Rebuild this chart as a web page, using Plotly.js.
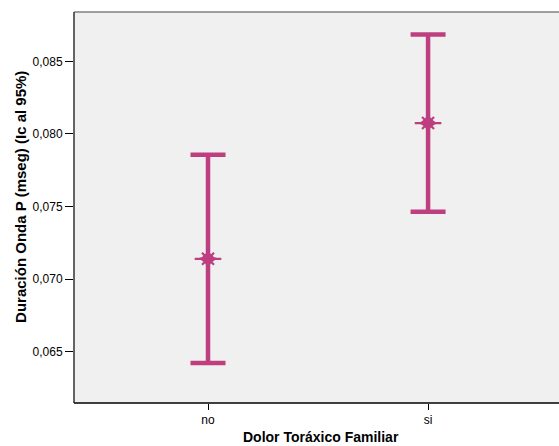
<!DOCTYPE html>
<html>
<head>
<meta charset="utf-8">
<script src="https://cdn.plot.ly/plotly-3.0.1.min.js"></script>
<style>
  html, body { margin: 0; padding: 0; background: #ffffff; overflow: hidden; width: 559px; height: 446px; }
  #chart { width: 559px; height: 446px; overflow: hidden; position: absolute; left: 0; top: 0; }
</style>
</head>
<body>
<div id="chart"></div>
<script>
// Group categories and 95% confidence intervals for P-wave duration
const categories = ['no', 'si'];
const means = [0.0714, 0.08075];
const upperCI = [0.07856, 0.08685];
const lowerCI = [0.06422, 0.07464];
const yTicks = [0.065, 0.070, 0.075, 0.080, 0.085];

const barColor = '#bd3f80';
const errPlus = means.map((m, i) => upperCI[i] - m);
const errMinus = means.map((m, i) => m - lowerCI[i]);

// Confidence interval bars, with a thin "+" arm set for the mean marker
const ciTrace = {
  type: 'scatter',
  mode: 'markers',
  x: categories,
  y: means,
  marker: { symbol: 'cross-thin-open', size: 19, color: barColor, line: { width: 2.2, color: barColor } },
  error_y: {
    type: 'data',
    symmetric: false,
    array: errPlus,
    arrayminus: errMinus,
    color: barColor,
    thickness: 4.5,
    width: 17.5
  },
  hoverinfo: 'x+y',
  showlegend: false
};

// Diagonal arms and hub, completing the 8-point star at each mean
const starDiag = {
  type: 'scatter',
  mode: 'markers',
  x: categories,
  y: means,
  marker: { symbol: 'x-thin-open', size: 12, color: barColor, line: { width: 2.2, color: barColor } },
  hoverinfo: 'skip',
  showlegend: false
};

const starHub = {
  type: 'scatter',
  mode: 'markers',
  x: categories,
  y: means,
  marker: { symbol: 'star-diamond', size: 15, color: barColor, line: { width: 0 } },
  hoverinfo: 'skip',
  showlegend: false
};

const fontFamily = '"Liberation Sans", Arial, sans-serif';

const layout = {
  width: 559,
  height: 446,
  margin: { l: 74, r: 0, t: 12, b: 43 },
  paper_bgcolor: '#ffffff',
  plot_bgcolor: '#f0f0f0',
  separators: ',.',
  font: { family: fontFamily, size: 12, color: '#000000' },
  xaxis: {
    type: 'category',
    range: [-0.609, 1.595],
    showgrid: false,
    zeroline: false,
    showline: false,
    ticks: 'outside',
    ticklen: 6,
    tickwidth: 1,
    tickcolor: '#000000',
    tickfont: { size: 12 }
  },
  yaxis: {
    range: [0.06147, 0.0884],
    tickvals: yTicks,
    tickformat: '.3f',
    showgrid: false,
    zeroline: false,
    showline: false,
    ticks: 'outside',
    ticklen: 8,
    tickwidth: 1,
    tickcolor: '#000000',
    tickfont: { size: 12 }
  },
  // axis titles as positioned labels
  annotations: [
    {
      text: 'Duración Onda P (mseg) (Ic al 95%)',
      textangle: -90,
      xref: 'paper', yref: 'paper',
      x: 0, y: 0.527,
      xanchor: 'center', yanchor: 'middle',
      xshift: -53,
      showarrow: false,
      font: { size: 15, family: fontFamily, weight: 'bold', color: '#000000' }
    },
    {
      text: 'Dolor Toráxico Familiar',
      xref: 'paper', yref: 'paper',
      x: 0.509, y: 0,
      xanchor: 'center', yanchor: 'top',
      yshift: -24,
      showarrow: false,
      font: { size: 14, family: fontFamily, weight: 'bold', color: '#000000' }
    }
  ],
  // right strip filled with the panel colour, then the frame: grey top, dark left, black bottom
  shapes: [
    {
      type: 'rect', xref: 'paper', yref: 'paper',
      x0: 0.985, x1: 1, y0: 0.005, y1: 0.995,
      fillcolor: '#f0f0f0', line: { width: 0 }
    },
    {
      type: 'line', xref: 'paper', yref: 'paper',
      x0: 0, x1: 1, y0: 1, y1: 1,
      line: { color: '#808080', width: 1.5 }
    },
    {
      type: 'line', xref: 'paper', yref: 'paper',
      x0: 0, x1: 0, y0: 0, y1: 1,
      line: { color: '#333333', width: 1.5 }
    },
    {
      type: 'line', xref: 'paper', yref: 'paper',
      x0: 0, x1: 1, y0: 0, y1: 0,
      line: { color: '#000000', width: 1.5 }
    }
  ]
};

Plotly.newPlot('chart', [ciTrace, starDiag, starHub], layout, { displayModeBar: false, staticPlot: true });
</script>
</body>
</html>
